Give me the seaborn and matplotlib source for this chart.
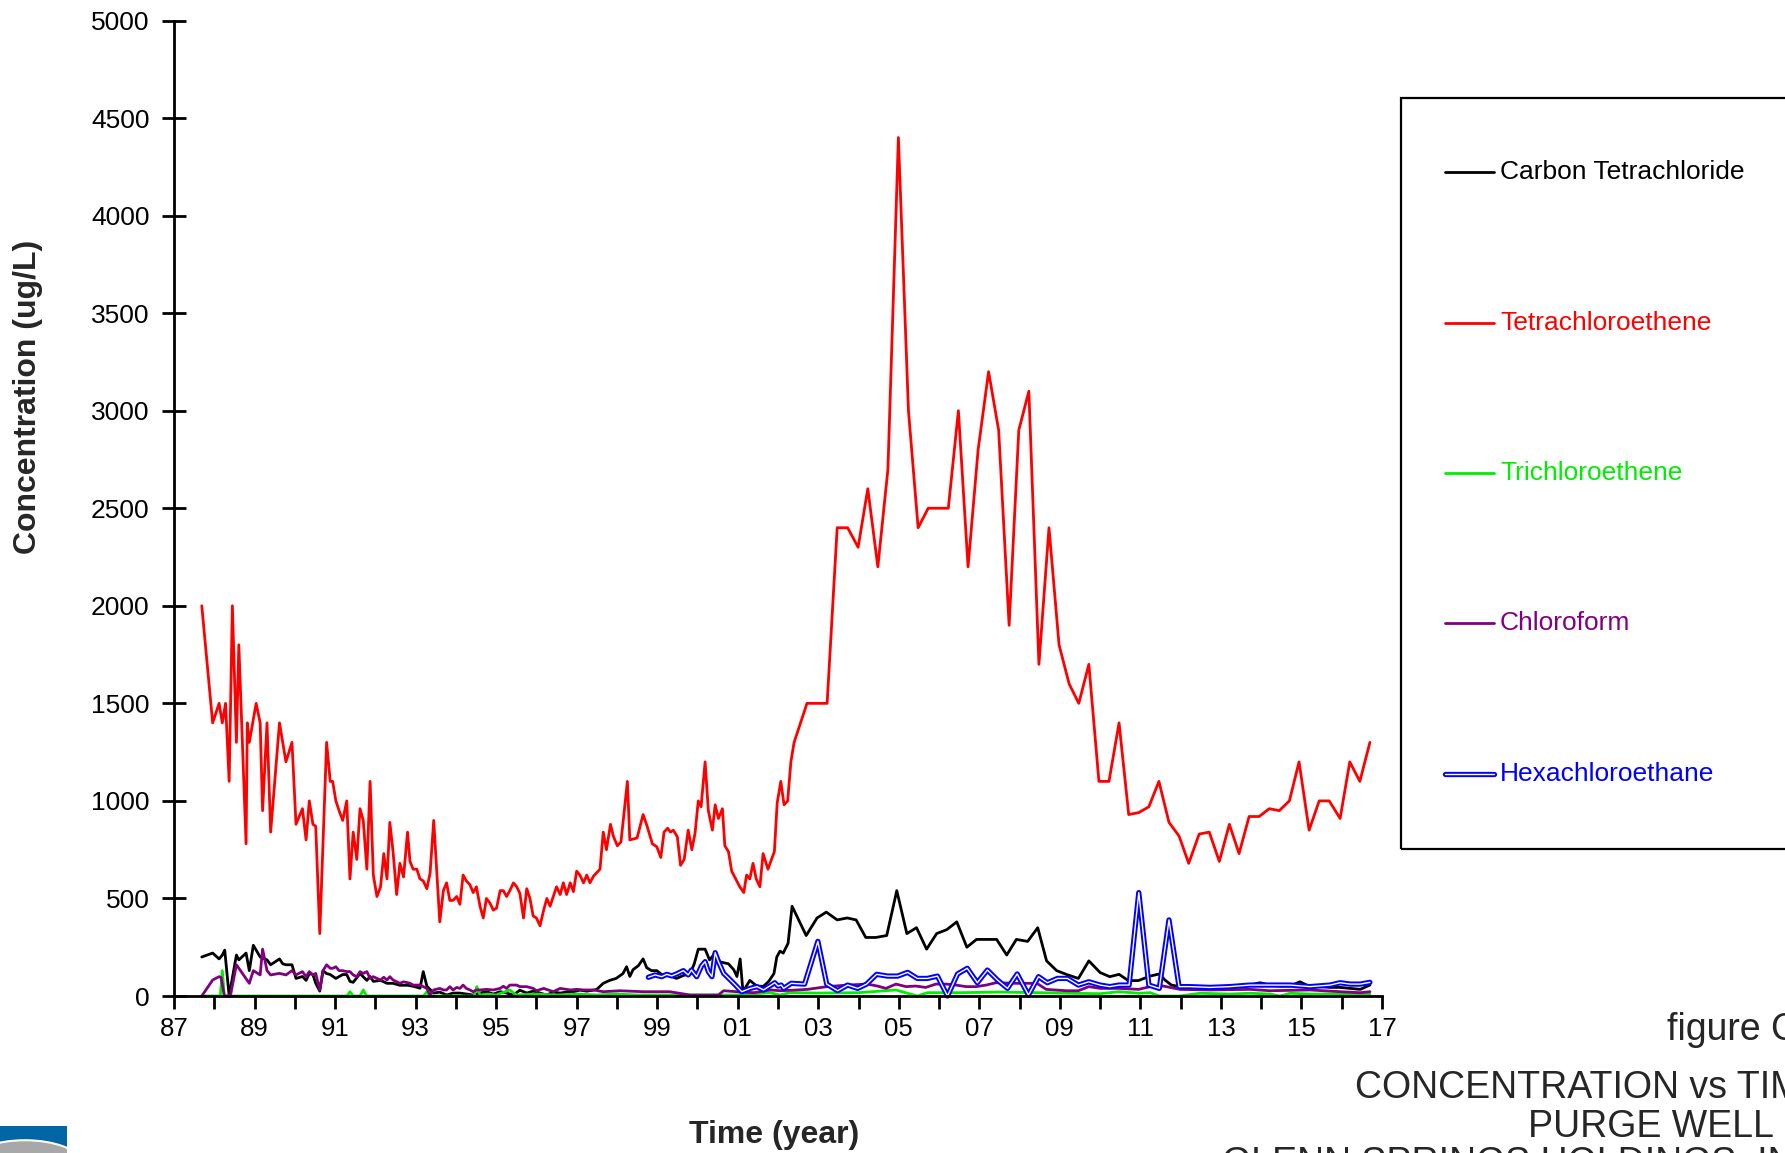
import numpy as np
import matplotlib
matplotlib.use("Agg")
import matplotlib.pyplot as plt
import seaborn as sns
from matplotlib.lines import Line2D
from matplotlib.patches import Rectangle, Ellipse

# ---------------- data (x = years since 1900) ----------------
pce_yr = [87.69, 87.96, 88.12, 88.20, 88.28, 88.37, 88.45, 88.55, 88.61, 88.79, 88.82, 88.87,
          89.04, 89.14, 89.20, 89.31, 89.40, 89.62, 89.78, 89.93, 90.03, 90.19, 90.28, 90.36,
          90.45, 90.52, 90.62, 90.79, 90.88, 90.94, 91.02, 91.10, 91.19, 91.29, 91.37, 91.45,
          91.54, 91.62, 91.70, 91.79, 91.87, 91.95, 92.04, 92.13, 92.21, 92.29, 92.36, 92.44,
          92.53, 92.61, 92.70, 92.80, 92.86, 92.94, 93.03, 93.11, 93.19, 93.28, 93.36, 93.45,
          93.60, 93.69, 93.77, 93.85, 93.93, 94.02, 94.10, 94.18, 94.26, 94.35, 94.43, 94.51,
          94.60, 94.68, 94.76, 94.85, 94.93, 95.01, 95.10, 95.18, 95.26, 95.34, 95.43, 95.51,
          95.59, 95.68, 95.76, 95.84, 95.92, 96.00, 96.09, 96.18, 96.26, 96.34, 96.42, 96.50,
          96.59, 96.67, 96.75, 96.84, 96.92, 97.00, 97.08, 97.17, 97.25, 97.33, 97.42, 97.58,
          97.66, 97.74, 97.84, 97.91, 98.01, 98.10, 98.26, 98.32, 98.50, 98.65, 98.75, 98.88,
          98.99, 99.09, 99.17, 99.26, 99.33, 99.40, 99.50, 99.58, 99.67, 99.77, 99.86, 99.94,
          100.02, 100.09, 100.19, 100.27, 100.37, 100.44, 100.52, 100.62, 100.68, 100.77, 100.85, 100.95,
          101.05, 101.15, 101.22, 101.30, 101.38, 101.46, 101.55, 101.63, 101.75, 101.91, 101.98, 102.07,
          102.15, 102.24, 102.32, 102.40, 102.72, 103.22, 103.47, 103.73, 103.99, 104.23, 104.48, 104.73,
          104.99, 105.24, 105.48, 105.73, 106.23, 106.48, 106.72, 106.97, 107.23, 107.48, 107.74, 107.98,
          108.23, 108.48, 108.73, 108.98, 109.23, 109.47, 109.72, 109.97, 110.22, 110.47, 110.71, 110.96,
          111.21, 111.46, 111.71, 111.96, 112.20, 112.46, 112.71, 112.96, 113.21, 113.45, 113.70, 113.95,
          114.20, 114.45, 114.70, 114.94, 115.19, 115.44, 115.69, 115.96, 116.20, 116.45, 116.70]
pce_val = [2000, 1400, 1500, 1400, 1500, 1100, 2000, 1300, 1800, 780, 1400, 1300,
           1500, 1400, 950, 1400, 840, 1400, 1200, 1300, 880, 960, 800, 1000,
           880, 870, 320, 1300, 1100, 1100, 1000, 950, 900, 1000, 600, 840,
           700, 960, 900, 650, 1100, 620, 510, 560, 730, 600, 890, 740,
           520, 680, 610, 840, 690, 650, 650, 600, 590, 550, 630, 900,
           380, 540, 580, 490, 490, 510, 470, 620, 590, 570, 530, 560,
           460, 400, 500, 475, 440, 450, 540, 540, 510, 540, 580, 560,
           526, 400, 550, 500, 410, 400, 360, 440, 500, 460, 510, 560,
           520, 580, 520, 580, 535, 640, 620, 580, 620, 580, 615, 650,
           840, 750, 880, 820, 770, 790, 1100, 800, 810, 930, 870, 780,
           765, 710, 840, 860, 840, 850, 816, 670, 700, 850, 750, 834,
           1000, 970, 1200, 950, 850, 980, 910, 960, 770, 740, 640, 600,
           560, 530, 620, 600, 680, 600, 560, 730, 650, 740, 990, 1100,
           980, 1000, 1200, 1300, 1500, 1500, 2400, 2400, 2300, 2600, 2200, 2700,
           4400, 3000, 2400, 2500, 2500, 3000, 2200, 2800, 3200, 2900, 1900, 2900,
           3100, 1700, 2400, 1800, 1600, 1500, 1700, 1100, 1100, 1400, 930, 940,
           970, 1100, 890, 820, 680, 830, 840, 690, 880, 730, 920, 920,
           960, 950, 1000, 1200, 850, 1000, 1000, 910, 1200, 1100, 1300]

ct_yr = [87.69, 87.96, 88.12, 88.20, 88.26, 88.37, 88.55, 88.61, 88.79, 88.87, 88.97, 89.04,
         89.14, 89.31, 89.40, 89.62, 89.70, 89.78, 89.93, 90.03, 90.19, 90.28, 90.36, 90.45,
         90.52, 90.62, 90.70, 90.79, 90.88, 91.02, 91.19, 91.29, 91.37, 91.45, 91.62, 91.79,
         91.87, 91.95, 92.13, 92.29, 92.44, 92.61, 92.80, 92.94, 93.11, 93.19, 93.28, 93.45,
         93.60, 93.77, 93.93, 94.10, 94.26, 94.43, 94.60, 94.76, 94.93, 95.10, 95.26, 95.43,
         95.59, 95.76, 95.92, 96.09, 96.26, 96.42, 96.59, 96.75, 96.92, 97.08, 97.25, 97.42,
         97.50, 97.66, 97.82, 97.98, 98.15, 98.24, 98.32, 98.40, 98.53, 98.65, 98.74, 98.86,
         98.99, 99.11, 99.24, 99.36, 99.48, 99.65, 99.82, 99.92, 100.02, 100.19, 100.30, 100.44,
         100.56, 100.77, 100.90, 100.98, 101.06, 101.13, 101.30, 101.48, 101.64, 101.77, 101.90, 101.97,
         102.05, 102.13, 102.25, 102.35, 102.70, 102.97, 103.20, 103.47, 103.72, 103.94, 104.18, 104.43,
         104.70, 104.95, 105.20, 105.44, 105.69, 105.94, 106.19, 106.44, 106.69, 106.93, 107.43, 107.68,
         107.92, 108.20, 108.45, 108.67, 108.92, 109.17, 109.46, 109.72, 110.00, 110.24, 110.47, 110.70,
         110.95, 111.24, 111.47, 111.61, 111.77, 111.98, 112.48, 112.72, 113.22, 113.72, 113.97, 114.22,
         114.47, 114.72, 114.96, 115.21, 115.46, 115.71, 115.96, 116.21, 116.46, 116.70]
ct_val = [200, 220, 190, 210, 235, 0, 210, 185, 220, 130, 260, 235,
          200, 185, 160, 190, 165, 160, 160, 90, 100, 80, 115, 110,
          65, 25, 130, 115, 110, 90, 110, 110, 75, 70, 115, 80,
          100, 75, 80, 65, 65, 55, 55, 50, 40, 125, 50, 15,
          20, 5, 15, 15, 10, 5, 15, 22, 10, 22, 15, 5,
          30, 15, 25, 15, 5, 20, 15, 20, 22, 30, 25, 30,
          34, 65, 80, 90, 115, 150, 100, 135, 155, 190, 145, 130,
          130, 110, 105, 100, 90, 105, 115, 165, 240, 240, 185, 220,
          175, 165, 135, 100, 190, 22, 80, 50, 50, 75, 115, 200,
          230, 220, 270, 460, 310, 400, 430, 390, 400, 390, 300, 300,
          310, 540, 320, 350, 240, 320, 340, 380, 250, 290, 290, 210,
          290, 280, 350, 180, 130, 110, 90, 180, 120, 99, 111, 79,
          79, 102, 113, 82, 56, 48, 48, 39, 48, 56, 68, 56,
          51, 51, 73, 48, 48, 44, 44, 39, 34, 56]

tce_yr = [87.69, 88.15, 88.20, 88.25, 91.30, 91.37, 91.45, 91.62, 91.70, 91.78, 93.20, 93.28,
          93.36, 94.45, 94.52, 94.60, 94.80, 95.00, 95.34, 95.50, 96.00, 96.50, 97.00, 97.50,
          98.00, 98.50, 99.00, 100.00, 101.00, 101.80, 102.05, 102.30, 103.00, 104.00, 104.93, 105.20,
          105.46, 105.71, 106.50, 107.50, 108.50, 109.25, 110.00, 110.47, 110.96, 111.24, 111.47, 111.98,
          112.48, 113.22, 113.72, 114.22, 114.47, 114.72, 115.21, 115.96, 116.70]
tce_val = [0, 0, 130, 0, 0, 22, 0, 0, 31, 0, 0, 22,
           0, 0, 48, 5, 10, 5, 31, 5, 10, 5, 10, 5,
           10, 5, 5, 5, 5, 17, 5, 17, 15, 17, 31, 15,
           0, 17, 17, 20, 17, 14, 12, 22, 14, 17, 0, 0,
           14, 10, 14, 10, 0, 14, 10, 10, 10]

cf_yr = [87.69, 87.96, 88.12, 88.17, 88.25, 88.40, 88.55, 88.87, 88.97, 89.14, 89.20, 89.31,
         89.40, 89.62, 89.78, 89.93, 90.03, 90.19, 90.28, 90.36, 90.45, 90.52, 90.62, 90.70,
         90.79, 90.88, 90.94, 91.02, 91.10, 91.19, 91.29, 91.37, 91.45, 91.54, 91.62, 91.70,
         91.79, 91.87, 91.95, 92.04, 92.13, 92.21, 92.29, 92.36, 92.44, 92.53, 92.61, 92.70,
         92.80, 92.86, 92.94, 93.03, 93.11, 93.19, 93.28, 93.36, 93.45, 93.60, 93.69, 93.77,
         93.85, 93.93, 94.02, 94.10, 94.18, 94.26, 94.35, 94.43, 94.51, 94.60, 94.76, 94.93,
         95.10, 95.18, 95.26, 95.34, 95.51, 95.59, 95.76, 95.92, 96.00, 96.18, 96.42, 96.59,
         96.84, 97.00, 97.17, 97.42, 97.66, 98.07, 98.65, 99.31, 99.82, 100.15, 100.52, 100.65,
         100.98, 101.40, 101.81, 102.06, 102.40, 102.73, 103.22, 103.72, 104.22, 104.47, 104.68, 104.93,
         105.18, 105.42, 105.67, 105.92, 106.17, 106.42, 106.67, 106.92, 107.17, 107.41, 107.91, 108.43,
         108.66, 109.16, 109.46, 109.72, 110.00, 110.47, 110.96, 111.24, 111.57, 111.98, 112.72, 113.72,
         114.22, 115.21, 115.96, 116.46, 116.70]
cf_val = [0, 82, 99, 95, 0, 0, 160, 65, 130, 108, 240, 130,
          108, 116, 108, 130, 108, 125, 99, 125, 108, 116, 31, 130,
          160, 142, 142, 150, 130, 130, 125, 125, 108, 99, 125, 116,
          125, 90, 99, 90, 82, 96, 82, 99, 82, 73, 65, 73,
          68, 65, 56, 56, 56, 48, 39, 5, 31, 39, 31, 31,
          48, 31, 44, 39, 56, 39, 31, 22, 31, 31, 34, 31,
          39, 50, 39, 56, 56, 48, 48, 39, 27, 39, 22, 39,
          31, 34, 31, 31, 22, 27, 22, 22, 5, 5, 5, 27,
          22, 17, 31, 27, 30, 34, 48, 56, 61, 51, 39, 61,
          48, 51, 44, 61, 61, 56, 48, 48, 56, 68, 65, 65,
          34, 27, 27, 48, 39, 39, 34, 48, 51, 34, 31, 34,
          27, 31, 22, 17, 22]

hca_yr = [98.78, 98.95, 99.11, 99.24, 99.36, 99.48, 99.65, 99.77, 99.85, 99.98, 100.10, 100.19,
          100.27, 100.36, 100.44, 100.52, 100.65, 100.90, 101.10, 101.31, 101.48, 101.64, 101.77, 101.92,
          102.00, 102.08, 102.14, 102.33, 102.66, 102.99, 103.21, 103.48, 103.73, 103.98, 104.20, 104.45,
          104.72, 104.97, 105.22, 105.46, 105.71, 105.96, 106.21, 106.46, 106.70, 106.95, 107.20, 107.45,
          107.70, 107.94, 108.22, 108.47, 108.69, 108.94, 109.19, 109.46, 109.72, 110.00, 110.24, 110.47,
          110.72, 110.96, 111.21, 111.47, 111.71, 111.96, 112.23, 112.72, 113.22, 113.72, 114.22, 114.72,
          115.21, 115.71, 115.96, 116.21, 116.46, 116.70]
hca_val = [96, 108, 99, 111, 103, 113, 130, 108, 133, 99, 154, 176,
           125, 99, 222, 176, 116, 65, 22, 39, 48, 31, 48, 68,
           51, 56, 39, 65, 61, 280, 61, 27, 56, 39, 61, 111,
           102, 102, 121, 90, 90, 102, 0, 113, 142, 68, 133, 82,
           39, 113, 5, 99, 68, 90, 90, 56, 73, 56, 48, 56,
           56, 530, 56, 39, 390, 48, 48, 44, 48, 56, 56, 56,
           48, 56, 68, 61, 61, 70]

names = ["Carbon Tetrachloride", "Tetrachloroethene", "Trichloroethene",
         "Chloroform", "Hexachloroethane"]
colors = ["#000000", "#ff0000", "#00ee00", "#800080", "#0000ff"]

# ---------------- figure ----------------
W, H = 1785, 1153
LW = 2.0
sns.set_style("ticks")
plt.rcParams["font.family"] = ["Liberation Sans", "DejaVu Sans"]


def fx(px):
    return px / W


def fy(py):
    return 1 - py / H


fig = plt.figure(figsize=(W / 100, H / 100), dpi=100)
ax = fig.add_axes([fx(174), fy(996), fx(1382) - fx(174), fy(20.5) - fy(996)])

series = [(ct_yr, ct_val), (pce_yr, pce_val), (tce_yr, tce_val),
          (cf_yr, cf_val), (hca_yr, hca_val)]
for (xs, ys), c, n in zip(series, colors, names):
    if n == "Hexachloroethane":
        # double line: thick blue with a thin white core
        sns.lineplot(x=xs, y=ys, ax=ax, color=c, linewidth=3.8,
                     estimator=None, sort=False, clip_on=False)
        sns.lineplot(x=xs, y=ys, ax=ax, color="white", linewidth=1.0,
                     estimator=None, sort=False, clip_on=False)
    else:
        sns.lineplot(x=xs, y=ys, ax=ax, color=c, linewidth=LW,
                     estimator=None, sort=False, clip_on=False)

ax.set_xlim(87, 117)
ax.set_ylim(0, 5000)
ax.set_xticks(np.arange(87, 118, 2))
ax.set_xticklabels([f"{int(t) % 100:02d}" for t in np.arange(87, 118, 2)])
ax.set_xticks(np.arange(88, 117, 2), minor=True)
ax.set_yticks(np.arange(0, 5001, 500))
ax.set_yticklabels([str(v) for v in range(0, 5001, 500)])
ax.tick_params(axis="x", which="both", direction="out", length=9, width=2,
               labelsize=18.5, pad=6, colors="black")
ax.tick_params(axis="y", direction="inout", length=17, width=2,
               labelsize=19, pad=9, colors="black")
for s in ["top", "right"]:
    ax.spines[s].set_visible(False)
for s in ["left", "bottom"]:
    ax.spines[s].set_linewidth(2)
    ax.spines[s].set_color("black")
ax.set_xlabel("")
ax.set_ylabel("")

fig.text(fx(28), fy(397), "Concentration (ug/L)", rotation=90, ha="center",
         va="center", fontsize=23, fontweight="bold")
fig.text(fx(774), fy(1135), "Time (year)", ha="center", va="center",
         fontsize=23, fontweight="bold")

# ---------------- legend box (runs off the right edge) ----------------
fig.patches.append(Rectangle((fx(1401), fy(849)), fx(1840) - fx(1401), fy(98) - fy(849),
                             transform=fig.transFigure, fill=False,
                             edgecolor="black", linewidth=1.6))
leg_y = [172, 323, 473, 623, 774]
for n, c, py in zip(names, colors, leg_y):
    if n == "Hexachloroethane":
        fig.add_artist(Line2D([fx(1445), fx(1494)], [fy(py), fy(py)], color=c, lw=3.8))
        fig.add_artist(Line2D([fx(1445), fx(1494)], [fy(py), fy(py)], color="white", lw=1.0))
    else:
        fig.add_artist(Line2D([fx(1445), fx(1494)], [fy(py), fy(py)], color=c, lw=LW))
    fig.text(fx(1500), fy(py), n, color=c, fontsize=19, va="center", ha="left")

# ---------------- title block ----------------
fig.text(fx(1667), fy(1040), "figure C", fontsize=27, va="baseline", ha="left")
fig.text(fx(1355), fy(1098), "CONCENTRATION vs TIME", fontsize=27, va="baseline", ha="left")
fig.text(fx(1528), fy(1137), "PURGE WELL", fontsize=27, va="baseline", ha="left")
fig.text(fx(1222), fy(1174), "GLENN SPRINGS HOLDINGS, INC.", fontsize=27,
         va="baseline", ha="left")

# small logo corner
fig.patches.append(Rectangle((0, 0), fx(67), fy(1126), transform=fig.transFigure,
                             facecolor="#0066a6", edgecolor="none"))
logo_arc = Ellipse((fx(25), fy(1162)), fx(110), fy(1130) - fy(1162) + 0.01,
                   transform=fig.transFigure, facecolor="#a8a8a8",
                   edgecolor="white", linewidth=1.5)
fig.patches.append(logo_arc)
logo_arc.set_clip_path(fig.patches[-2])

fig.savefig("out.png", dpi=100)
